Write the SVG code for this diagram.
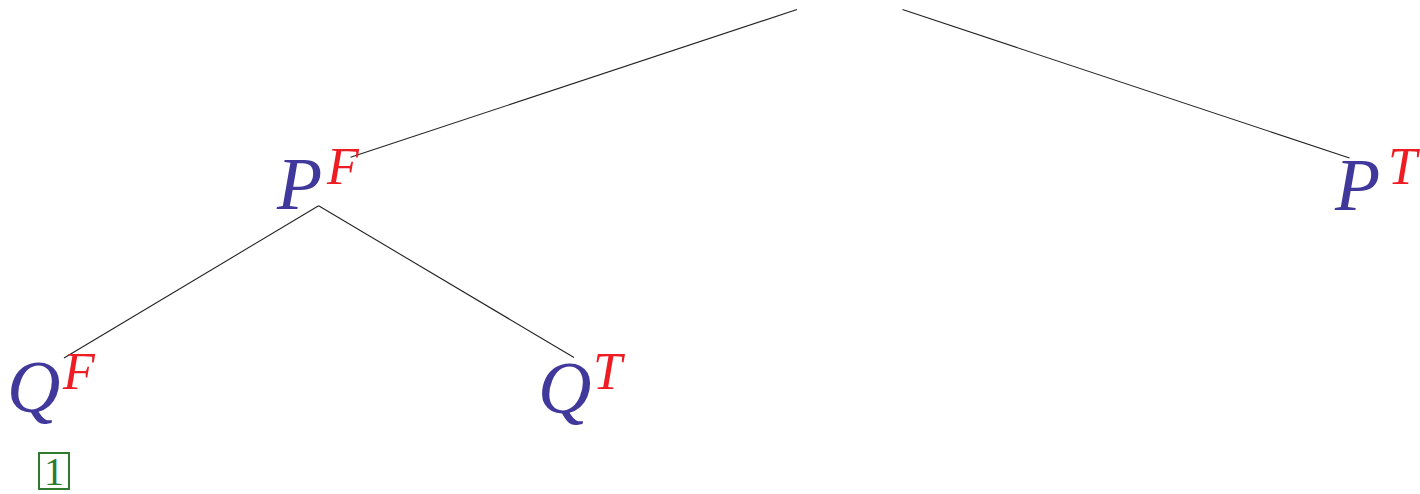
<svg xmlns="http://www.w3.org/2000/svg" width="1420" height="494" viewBox="0 0 1420 494">
<style>
.base{font-family:"Liberation Serif","DejaVu Serif",serif;font-style:italic;fill:#40389B;font-size:74px}
.sup{font-family:"Liberation Serif","DejaVu Serif",serif;font-style:italic;fill:#EE1D23;font-size:52px}
.edge{stroke:#222;stroke-width:1.1;fill:none}
.lab{font-family:"Liberation Serif","DejaVu Serif",serif;fill:#2F7A2F;font-size:40px}
</style>
<rect width="1420" height="494" fill="#fff"/>
<g id="connectors">
<line class="edge" x1="797" y1="9.5" x2="350.5" y2="157.3"/>
<line class="edge" x1="902.5" y1="9.5" x2="1349.5" y2="158"/>
<line class="edge" x1="318.6" y1="205.8" x2="64" y2="358"/>
<line class="edge" x1="318.6" y1="205.8" x2="574" y2="357.5"/>
</g>
<g id="nodePF">
<text class="base" x="277" y="209">P</text>
<text class="sup" x="327" y="184">F</text>
</g>
<g id="nodePT">
<text class="base" x="1335" y="210">P</text>
<text class="sup" x="1388" y="184">T</text>
</g>
<g id="nodeQF">
<text class="base" x="7" y="412">Q</text>
<text class="sup" x="63" y="389">F</text>
</g>
<g id="nodeQT">
<text class="base" x="538" y="413">Q</text>
<text class="sup" x="593" y="389">T</text>
</g>
<g id="label1">
<rect x="39" y="453" width="30" height="36" fill="none" stroke="#2F7A2F" stroke-width="2"/>
<text class="lab" x="54" y="485" text-anchor="middle">1</text>
</g>
</svg>
